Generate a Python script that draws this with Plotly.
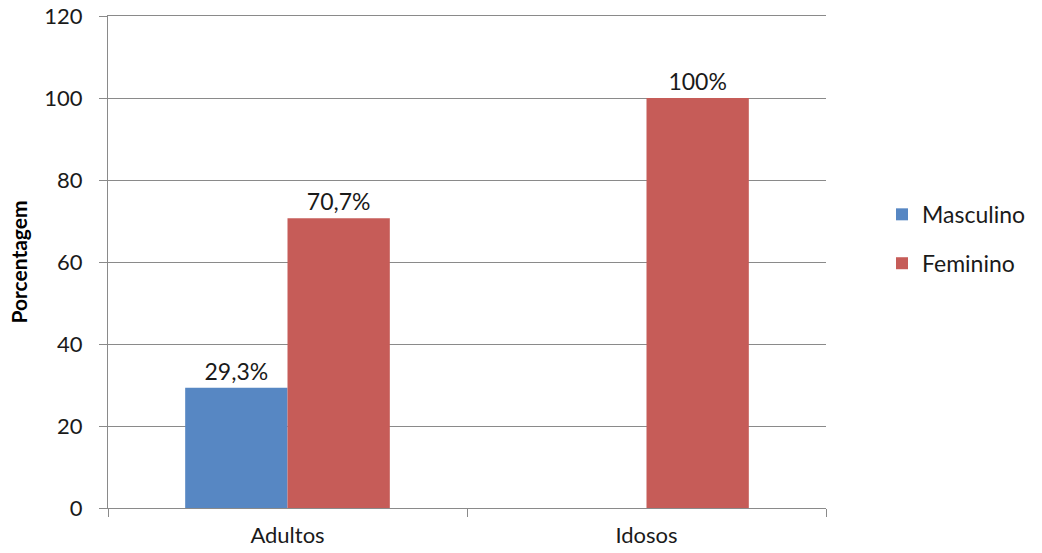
import plotly.graph_objects as go

categories = ["Adultos", "Idosos"]
masculino = [29.3, 0]
feminino = [70.7, 100]
masc_labels = ["29,3%", ""]
fem_labels = ["70,7%", "100%"]
y_ticks = [0, 20, 40, 60, 80, 100, 120]

FONT = "Lato, Carlito, Calibri, sans-serif"

fig = go.Figure()
fig.add_trace(go.Bar(
    name="Masculino", x=categories, y=masculino, text=masc_labels,
    textposition="outside", marker=dict(color="#5787C3", line=dict(width=0)),
    textfont=dict(size=23, color="#1a1a1a", family=FONT), cliponaxis=False,
    legendgroup="m",
))
fig.add_trace(go.Bar(
    name="Feminino", x=categories, y=feminino, text=fem_labels,
    textposition="outside", marker=dict(color="#C65C58", line=dict(width=0)),
    textfont=dict(size=23, color="#1a1a1a", family=FONT), cliponaxis=False,
    legendgroup="f",
))

fig.update_layout(
    width=1042, height=553,
    margin=dict(l=108, r=216, t=16, b=45, autoexpand=False),
    paper_bgcolor="white", plot_bgcolor="white",
    barmode="group", bargap=0.43, bargroupgap=0,
    font=dict(family=FONT, size=22, color="#1a1a1a"),
    showlegend=True,
    legend=dict(x=1.078, y=0.547, xanchor="left", yanchor="middle",
                font=dict(size=23, family=FONT, color="#1a1a1a"),
                tracegroupgap=16, traceorder="grouped",
                itemsizing="constant"),
)
fig.update_xaxes(
    showline=True, mirror=True, linecolor="#8a8a8a", linewidth=1,
    ticks="outside", tickson="boundaries", ticklen=8, tickcolor="#8a8a8a",
    tickfont=dict(size=22, family=FONT, color="#1a1a1a"), showgrid=False,
    automargin=False, ticklabelstandoff=8,
)
fig.update_yaxes(
    range=[0, 120], tickvals=y_ticks, showline=True, linecolor="#8a8a8a",
    linewidth=1, ticks="outside", ticklen=8, tickcolor="#8a8a8a",
    showgrid=True, gridcolor="#8a8a8a", gridwidth=1,
    tickfont=dict(size=22, family=FONT, color="#1a1a1a"), zeroline=False,
    automargin=False, ticklabelstandoff=12, ticklabeloverflow="allow",
    title=dict(text="<b>Porcentagem</b>", font=dict(size=21, family=FONT, color="#000000"), standoff=10),
)

fig.write_html(
    "out.html",
    config={"displayModeBar": False},
    post_script="document.body.style.margin='0';document.body.style.overflow='hidden';",
)
